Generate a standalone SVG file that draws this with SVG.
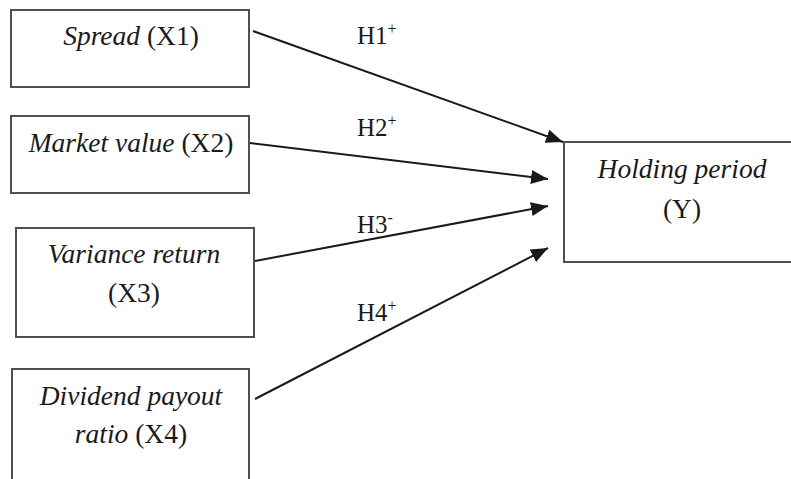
<svg xmlns="http://www.w3.org/2000/svg" width="791" height="479" viewBox="0 0 791 479">
  <defs>
    <marker id="head" markerUnits="userSpaceOnUse" markerWidth="18" markerHeight="14" refX="17" refY="7" orient="auto">
      <path d="M0,0 L17,7 L0,14 Z" fill="#1a1a1a"/>
    </marker>
  </defs>
  <style>
    .box { fill: #ffffff; stroke: #505050; stroke-width: 2; }
    .lbl { font-family: "Liberation Serif", "Times New Roman", serif; font-size: 27.5px; fill: #1a1a1a; text-anchor: middle; }
    .it { font-style: italic; }
    .hyp { font-family: "Liberation Serif", "Times New Roman", serif; font-size: 25px; fill: #1a1a1a; }
    .sup { font-size: 16px; }
    .edge { stroke: #1a1a1a; stroke-width: 2; fill: none; marker-end: url(#head); }
  </style>
  <rect width="791" height="479" fill="#ffffff"/>

  <g id="x1">
    <rect class="box" x="11" y="10" width="238" height="77"/>
    <text class="lbl" x="131" y="45"><tspan class="it">Spread</tspan> (X1)</text>
  </g>
  <g id="x2">
    <rect class="box" x="11" y="116" width="238" height="77"/>
    <text class="lbl" x="131" y="152"><tspan class="it">Market value</tspan> (X2)</text>
  </g>
  <g id="x3">
    <rect class="box" x="16" y="228" width="238" height="109"/>
    <text class="lbl it" x="134" y="263">Variance return</text>
    <text class="lbl" x="134" y="302">(X3)</text>
  </g>
  <g id="x4">
    <rect class="box" x="12" y="369" width="237" height="130"/>
    <text class="lbl it" x="131" y="405">Dividend payout</text>
    <text class="lbl" x="131" y="443"><tspan class="it">ratio</tspan> (X4)</text>
  </g>
  <g id="y">
    <rect class="box" x="564" y="142" width="240" height="120"/>
    <text class="lbl it" x="682" y="178">Holding period</text>
    <text class="lbl" x="682" y="218">(Y)</text>
  </g>

  <g id="connectors">
    <line class="edge" x1="253" y1="31" x2="563" y2="142"/>
    <line class="edge" x1="250" y1="143" x2="548" y2="179"/>
    <line class="edge" x1="255" y1="261" x2="548" y2="206"/>
    <line class="edge" x1="255" y1="399" x2="548" y2="248"/>
    <text class="hyp" x="357" y="44">H1<tspan class="sup" dy="-10">+</tspan></text>
    <text class="hyp" x="357" y="136">H2<tspan class="sup" dy="-10">+</tspan></text>
    <text class="hyp" x="357" y="233">H3<tspan class="sup" dy="-10">-</tspan></text>
    <text class="hyp" x="357" y="321">H4<tspan class="sup" dy="-10">+</tspan></text>
  </g>
</svg>
